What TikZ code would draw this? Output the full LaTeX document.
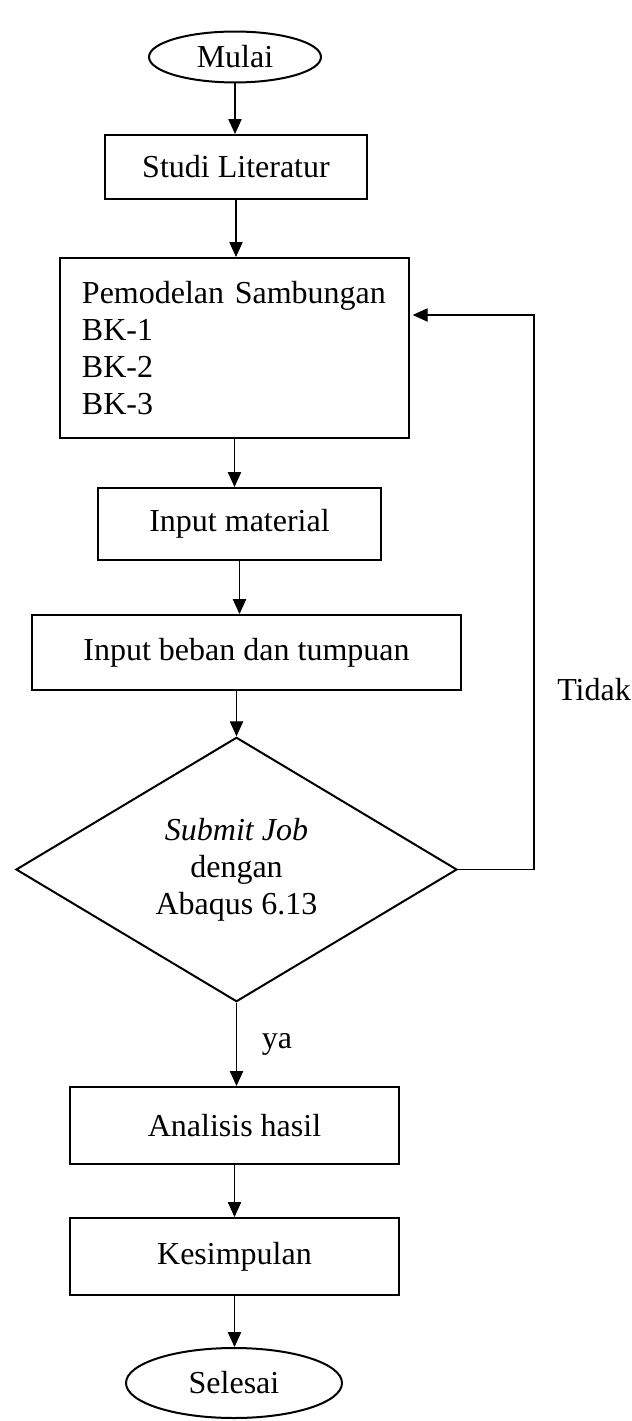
\documentclass[tikz,border=0pt]{standalone}
\usepackage{fontspec}
\setmainfont{Liberation Serif}
\usetikzlibrary{shapes.geometric,arrows.meta}
\begin{document}
\begin{tikzpicture}[x=0.375pt,y=-0.375pt,
  font=\fontsize{12pt}{13.8pt}\selectfont,
  kotak/.style={rectangle,draw,line width=0.75pt,inner sep=0pt},
  lonjong/.style={ellipse,draw,line width=0.75pt,inner sep=0pt},
  belah/.style={diamond,draw,line width=0.75pt,inner sep=0pt,align=center},
  panah/.style={-{Triangle[width=5pt,length=5.6pt]},line width=0.4pt}]
\useasboundingbox (0,0) rectangle (632,1421);
\node [lonjong,minimum width=64.5pt,minimum height=19.1pt] (mulai) at (235,57) {Mulai};
\node [kotak,minimum width=98.25pt,minimum height=24pt] (studi) at (236,167) {Studi Literatur};
\node [kotak,text width=114.4pt,inner xsep=8.25pt,align=left,minimum height=67.5pt] (model) at (234.5,348)
  {Pemodelan Sambungan\\BK-1\\BK-2\\BK-3};
\node [kotak,minimum width=106.1pt,minimum height=27pt] (material) at (239.5,524) {Input material};
\node [kotak,minimum width=160.9pt,minimum height=28.1pt] (beban) at (246.5,652.5) {Input beban dan tumpuan};
\node [belah,minimum width=165.4pt,minimum height=95.6pt] (submit) at (236.5,869.5)
  {\itshape Submit Job\\dengan\\Abaqus 6.13};
\node [kotak,minimum width=123.4pt,minimum height=28.9pt] (analisis) at (234.5,1125.5) {Analisis hasil};
\node [kotak,minimum width=123.4pt,minimum height=28.9pt] (simpul) at (234.5,1256.5) {Kesimpulan};
\node [lonjong,minimum width=81pt,minimum height=26.25pt] (selesai) at (234,1383) {Selesai};
\node (tidak) at (594,690) {Tidak};
\coordinate (sudut) at (534,315);

\draw [panah] (mulai.south) -- (mulai.south |- studi.north);
\draw [panah] (studi.south) -- (studi.south |- model.north);
\draw [panah] (model.south) -- (model.south |- material.north);
\draw [panah] (material.south) -- (material.south |- beban.north);
\draw [panah] (submit.north |- beban.south) -- (submit.north);
\draw [panah] (submit.south) -- node[right=6pt] {ya} (submit.south |- analisis.north);
\draw [panah] (analisis.south) -- (analisis.south |- simpul.north);
\draw [panah] (simpul.south) -- (simpul.south |- selesai.north);
\draw [panah,shorten >=1pt] (submit.east) -| (sudut) -- (sudut -| model.east);
\end{tikzpicture}
\end{document}
